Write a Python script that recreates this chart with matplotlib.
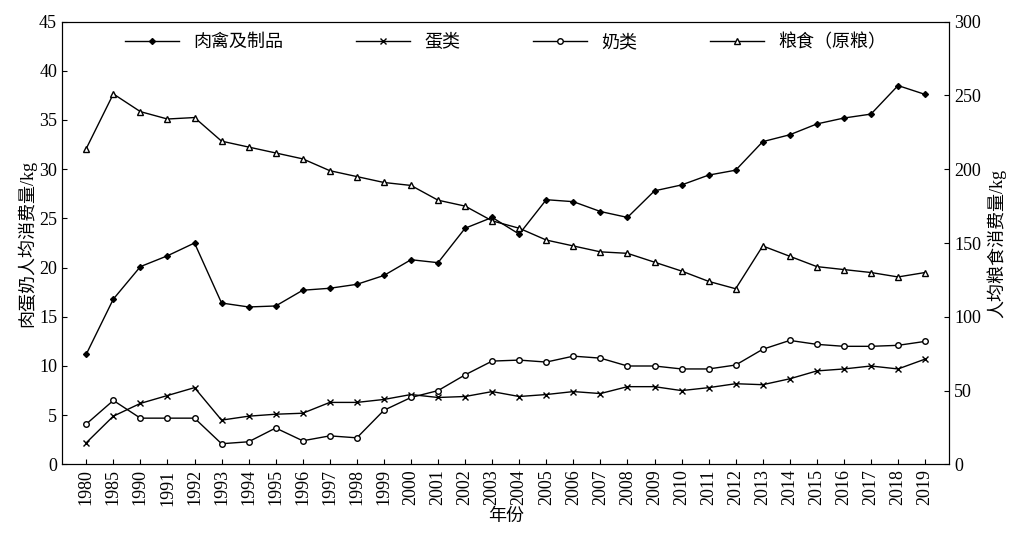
import matplotlib.pyplot as plt
import numpy as np

plt.rcParams['font.family'] = ['Liberation Serif', 'Noto Sans CJK SC']

years = ['1980', '1985'] + [str(y) for y in range(1990, 2020)]
meat = [11.2, 16.8, 20.1, 21.2, 22.5, 16.4, 16.0, 16.1, 17.7, 17.9, 18.3, 19.2, 20.8, 20.5,
        24.0, 25.1, 23.4, 26.9, 26.7, 25.7, 25.1, 27.8, 28.4, 29.4, 29.9, 32.8, 33.5, 34.6,
        35.2, 35.6, 38.5, 37.6]
eggs = [2.2, 4.9, 6.2, 7.0, 7.8, 4.5, 4.9, 5.1, 5.2, 6.3, 6.3, 6.6, 7.1, 6.8, 6.9, 7.4,
        6.9, 7.1, 7.4, 7.2, 7.9, 7.9, 7.5, 7.8, 8.2, 8.1, 8.7, 9.5, 9.7, 10.0, 9.7, 10.7]
milk = [4.1, 6.5, 4.7, 4.7, 4.7, 2.1, 2.3, 3.7, 2.4, 2.9, 2.7, 5.5, 6.8, 7.5, 9.1, 10.5,
        10.6, 10.4, 11.0, 10.8, 10.0, 10.0, 9.7, 9.7, 10.1, 11.7, 12.6, 12.2, 12.0, 12.0,
        12.1, 12.5]
grain = [214, 251, 239, 234, 235, 219, 215, 211, 207, 199, 195, 191, 189, 179, 175, 165,
         160, 152, 148, 144, 143, 137, 131, 124, 119, 148, 141, 134, 132, 130, 127, 130]

x = np.arange(len(years))
fig, ax = plt.subplots(figsize=(10.32, 5.4), dpi=100)
fig.subplots_adjust(left=0.06, right=0.92, top=0.96, bottom=0.14)
ax2 = ax.twinx()

kw = dict(color='black', lw=1, markersize=4, markerfacecolor='white')
l1, = ax.plot(x, meat, marker='D', label='肉禽及制品', color='black', lw=1, markersize=3)
l2, = ax.plot(x, eggs, marker='x', label='蛋类', color='black', lw=1, markersize=4)
l3, = ax.plot(x, milk, marker='o', label='奶类', **kw)
l4, = ax2.plot(x, grain, marker='^', label='粮食（原粮）', **kw)

ax.set_ylim(0, 45)
ax.set_yticks(range(0, 46, 5))
ax2.set_ylim(0, 300)
ax2.set_yticks(range(0, 301, 50))
ax.set_xlim(-0.9, len(years) - 0.1)
ax.set_xticks(x)
ax.set_xticklabels(years, rotation=90)
for a in (ax, ax2):
    a.tick_params(labelsize=13, direction='in')
ax.set_xlabel('年份', fontsize=13, labelpad=2)
ax.set_ylabel('肉蛋奶人均消费量/kg', fontsize=13, labelpad=2)
ax2.set_ylabel('人均粮食消费量/kg', fontsize=13, labelpad=4)

ax.legend(handles=[l1, l2, l3, l4], loc='upper center', ncol=4, frameon=False,
          fontsize=13, bbox_to_anchor=(0.5, 1.01), columnspacing=4, handlelength=3)

fig.savefig('out.png')
